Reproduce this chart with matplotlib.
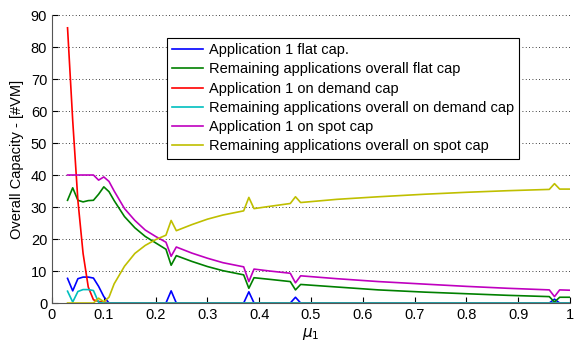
import matplotlib
matplotlib.use("Agg")
import matplotlib.pyplot as plt

plt.rcParams['font.family'] = ['Liberation Sans', 'DejaVu Sans']

mu = [0.03, 0.04, 0.05, 0.06, 0.07, 0.08, 0.09, 0.10, 0.11, 0.12,
      0.14, 0.16, 0.18, 0.20, 0.22, 0.23, 0.24, 0.27, 0.30, 0.33,
      0.37, 0.38, 0.39, 0.42, 0.46, 0.47, 0.48, 0.55, 0.63, 0.72,
      0.80, 0.88, 0.96, 0.97, 0.98, 1.00]

app1_flat = [7.7, 3.8, 7.6, 8.1, 8.1, 7.8, 5.2, 2.0, 0, 0,
             0, 0, 0, 0, 0, 3.8, 0, 0, 0, 0,
             0, 3.5, 0, 0, 0, 1.8, 0, 0, 0, 0,
             0, 0, 0, 1.2, 0, 0]
rest_flat = [32.1, 36.0, 32.1, 31.6, 32.0, 32.1, 34.0, 36.3, 34.8, 32.0,
             27.0, 23.5, 20.8, 18.8, 16.8, 11.8, 14.8, 13.0, 11.4, 10.1,
             8.8, 4.6, 7.9, 7.4, 6.7, 4.1, 5.8, 5.0, 4.1, 3.4,
             2.9, 2.4, 2.0, 0.3, 1.8, 1.8]
app1_demand = [86.0, 57.0, 32.0, 15.5, 5.0, 1.0, 0.5, 0.3, 0, 0,
               0, 0, 0, 0, 0, 0, 0, 0, 0, 0,
               0, 0, 0, 0, 0, 0, 0, 0, 0, 0,
               0, 0, 0, 0, 0, 0]
rest_demand = [3.7, 0.3, 3.6, 4.2, 4.2, 3.9, 0.2, 0, 0, 0,
               0, 0, 0, 0, 0, 0, 0, 0, 0, 0,
               0, 0, 0, 0, 0, 0, 0, 0, 0, 0,
               0, 0, 0, 0, 0, 0]
app1_spot = [40.0, 40.0, 40.0, 40.0, 40.0, 40.0, 38.4, 39.4, 38.0, 35.0,
             29.5, 25.8, 22.8, 20.8, 19.0, 14.6, 17.5, 15.6, 14.0, 12.6,
             11.3, 6.7, 10.6, 10.0, 9.3, 6.3, 8.5, 7.6, 6.7, 5.9,
             5.2, 4.6, 4.1, 2.0, 4.1, 4.0]
rest_spot = [0, 0, 0, 0, 0, 0, 1.5, 0.4, 1.8, 6.0,
             11.5, 15.5, 18.0, 19.8, 21.2, 25.8, 22.6, 24.5, 26.2, 27.5,
             28.8, 33.0, 29.5, 30.2, 31.1, 33.2, 31.4, 32.4, 33.2, 34.0,
             34.6, 35.1, 35.5, 37.3, 35.6, 35.6]

labels = ["Application 1 flat cap.",
          "Remaining applications overall flat cap",
          "Application 1 on demand cap",
          "Remaining applications overall on demand cap",
          "Application 1 on spot cap",
          "Remaining applications overall on spot cap"]
colors = ["#0000ff", "#008000", "#ff0000", "#00bfbf", "#bf00bf", "#bfbf00"]
series = [app1_flat, rest_flat, app1_demand, rest_demand, app1_spot, rest_spot]

fig = plt.figure(figsize=(5.79, 3.45), dpi=100)
ax = fig.add_axes([0.0898, 0.1217, 0.8947, 0.8348])

for vals, c, lab in zip(series, colors, labels):
    ax.plot(mu, vals, color=c, lw=1.2, label=lab)

ax.set_xlim(0, 1)
ax.set_ylim(0, 90)
ax.set_xticks([i / 10 for i in range(11)])
ax.set_xticklabels(["0", "0.1", "0.2", "0.3", "0.4", "0.5", "0.6", "0.7", "0.8", "0.9", "1"])
ax.set_yticks(range(0, 91, 10))
ax.tick_params(direction='in', length=4, labelsize=10.5)
ax.yaxis.grid(True, linestyle=(0, (1, 3)), color='black', lw=0.6)
ax.spines['top'].set_visible(False)
ax.spines['right'].set_visible(False)
for s in ['left', 'bottom']:
    ax.spines[s].set_color('#555555')

ax.set_xlabel(r'$\mu_1$', fontsize=11, labelpad=3)
ax.set_ylabel("Overall Capacity - [#VM]", fontsize=10.5, labelpad=5)

leg = ax.legend(loc='upper left', bbox_to_anchor=(0.222, 0.92), fontsize=10.5,
                fancybox=False, framealpha=1, edgecolor='black',
                handlelength=2.1, handletextpad=0.4, labelspacing=0.36,
                borderpad=0.35, borderaxespad=0)
leg.get_frame().set_linewidth(0.8)

fig.savefig("out.png", dpi=100)
